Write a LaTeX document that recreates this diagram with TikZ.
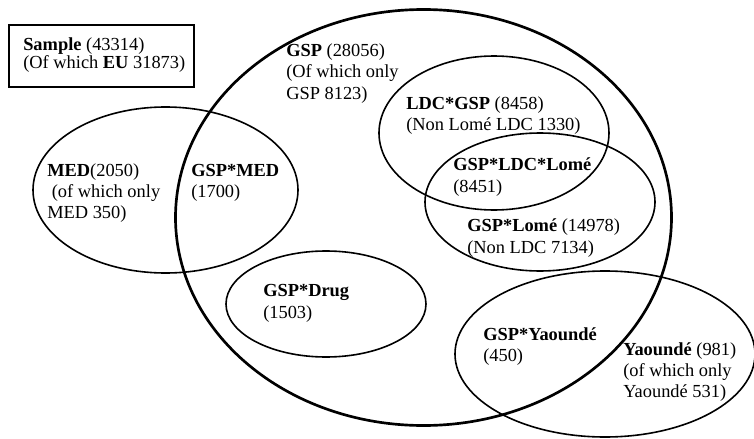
\documentclass[tikz,border=0pt]{standalone}
\usepackage{fontspec}
\setmainfont{Liberation Serif}
\usetikzlibrary{positioning}

\begin{document}
\begin{tikzpicture}[x=0.75pt, y=-0.75pt,
    venn/.style={line width=1.2pt},
    vennbig/.style={line width=2pt},
    lbl/.style={anchor=west, inner sep=0pt, align=left, font=\fontsize{13.8}{16}\selectfont}]
    \useasboundingbox (0,0) rectangle (754,439);
    % centres of the sets
    \coordinate (gsp) at (423.5,217.5);
    \coordinate (med) at (165.5,190);
    \coordinate (ldc) at (494,133);
    \coordinate (lome) at (540,202);
    \coordinate (drug) at (326,304);
    \coordinate (yao) at (605,354);
    \draw[vennbig] (gsp) ellipse [x radius=248, y radius=208];
    \draw[venn] (med) ellipse [x radius=132.5, y radius=83];
    \draw[venn] (ldc) ellipse [x radius=115, y radius=77];
    \draw[venn] (lome) ellipse [x radius=115, y radius=69];
    \draw[venn] (drug) ellipse [x radius=100, y radius=53];
    \draw[venn] (yao) ellipse [x radius=150, y radius=83];
    % sample box
    \draw[line width=1.5pt] (9,25) rectangle (194,87);
    \node[lbl, font=\fontsize{13.8}{12.5}\selectfont] (sample) at (23,55) {\textbf{Sample} (43314)\\(Of which \textbf{EU} 31873)};
    % labels
    \node[lbl] (gsplbl) at (286,73.5) {\textbf{GSP} (28056)\\(Of which only\\GSP 8123)};
    \node[lbl] (medlbl) at (47,193) {\textbf{MED}(2050)\\\ (of which only\\MED 350)};
    \node[lbl] (gspmed) at (191,183) {\textbf{GSP*MED}\\(1700)};
    \node[lbl] (ldcgsp) at (406,115.5) {\textbf{LDC*GSP} (8458)\\(Non Lomé LDC 1330)};
    \node[lbl] (gspldclome) at (453,177) {\textbf{GSP*LDC*Lomé}\\(8451)};
    \node[lbl] (gsplome) at (467,238) {\textbf{GSP*Lomé} (14978)\\(Non LDC 7134)};
    \node[lbl] (gspdrug) at (263,303.5) {\textbf{GSP*Drug}\\(1503)};
    \node[lbl] (gspyao) at (483,346.5) {\textbf{GSP*Yaoundé}\\(450)};
    \node[lbl] (yaolbl) at (623,372) {\textbf{Yaoundé} (981)\\(of which only\\Yaoundé 531)};
\end{tikzpicture}
\end{document}
